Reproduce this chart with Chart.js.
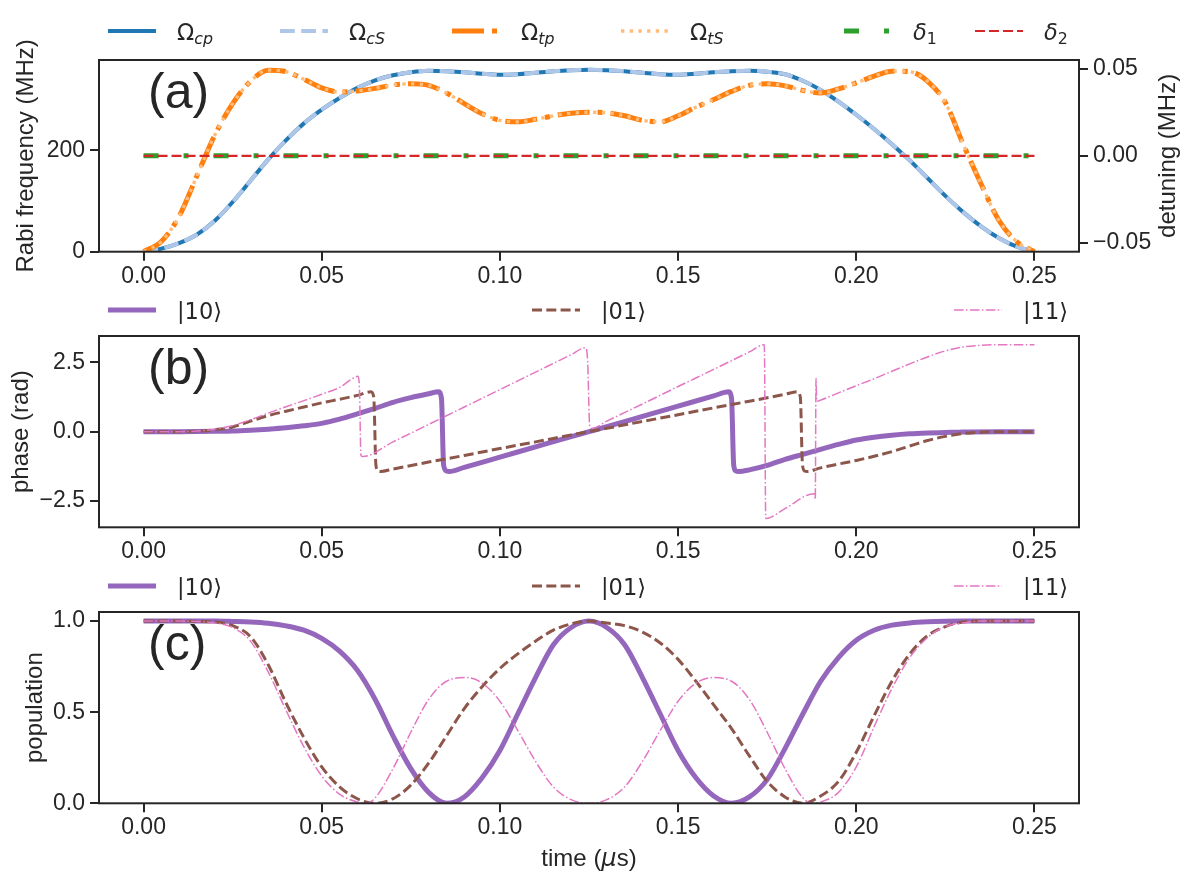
<!DOCTYPE html>
<html><head><meta charset="utf-8">
<script src="https://cdn.jsdelivr.net/npm/chart.js@4.4.1/dist/chart.umd.min.js"></script>
<style>
html,body{margin:0;padding:0;background:#fff}
#wrap{position:relative;width:1191px;height:883px;overflow:hidden;background:#fff}
canvas{position:absolute;left:0}
</style></head><body>
<div id="wrap">
<canvas id="cA" width="1191" height="295" style="top:0px"></canvas>
<canvas id="cB" width="1191" height="290" style="top:290px"></canvas>
<canvas id="cC" width="1191" height="308" style="top:575px"></canvas>
</div>
<script>
// ---------------- data ----------------
const timeGrid = [0,0.005,0.01,0.015,0.02,0.025,0.03,0.035,0.04,0.045,0.05,0.055,0.06,0.065,0.07,0.075,0.08,0.085,0.09,0.095,0.1,0.105,0.11,0.115,0.12,0.125,0.13,0.135,0.14,0.145,0.15,0.155,0.16,0.165,0.17,0.175,0.18,0.185,0.19,0.195,0.2,0.205,0.21,0.215,0.22,0.225,0.23,0.235,0.24,0.245,0.25];

// panel (a): Rabi frequencies (MHz)
const omegaCP = [0,6,17,34,61,98,140,182,220,253,280,303,323,338,348,354,357,356,354,351,349,350,353,356,358,359,358,356,353,350,349,351,354,356,357,355,350,337,319,296,270,242,212,180,145,110,78,50,27,10,0];
const omegaCS = [0,6,17,34,61,98,140,182,220,253,280,303,323,338,348,354,357,356,354,351,349,350,353,356,358,359,358,356,353,350,349,351,354,356,357,355,350,337,319,296,270,242,212,180,145,110,78,50,27,10,0];
const omegaTP = [0,20,70,150,230,292,336,358,355,340,323,315,317,322,329,331,328,313,292,272,259,256,261,268,273,275,274,268,259,256,268,285,300,316,328,331,327,318,313,321,333,346,356,355,336,294,212,134,62,20,0];
const omegaTS = [0,20,70,150,230,292,336,358,355,340,323,315,317,322,329,331,328,313,292,272,259,256,261,268,273,275,274,268,259,256,268,285,300,316,328,331,327,318,313,321,333,346,356,355,336,294,212,134,62,20,0];
// detunings (MHz)
const detuneT = [0, 0.25];
const delta1 = [0, 0];
const delta2 = [0, 0];

// panel (b): phases (rad)
const phase10T = [0,0.01,0.02,0.025,0.03,0.035,0.04,0.045,0.05,0.055,0.06,0.065,0.07,0.075,0.08,0.0828,0.0836,0.0842,0.085,0.0858,0.09,0.1,0.11,0.12,0.125,0.13,0.14,0.15,0.16,0.1642,0.165,0.1656,0.1662,0.167,0.17,0.175,0.18,0.185,0.19,0.195,0.2,0.205,0.21,0.215,0.22,0.225,0.23,0.24,0.25];
const phase10 = [0,0,0.01,0.02,0.05,0.09,0.14,0.21,0.3,0.45,0.64,0.84,1.06,1.23,1.37,1.44,1.2,-1.2,-1.42,-1.44,-1.29,-0.92,-0.55,-0.18,0,0.18,0.55,0.92,1.29,1.44,1.2,-1.2,-1.42,-1.44,-1.38,-1.22,-1.0,-0.82,-0.64,-0.46,-0.3,-0.2,-0.13,-0.08,-0.05,-0.03,-0.01,0,0];
const phase01T = [0,0.01,0.015,0.02,0.025,0.03,0.035,0.04,0.045,0.05,0.055,0.06,0.0638,0.0646,0.0652,0.0658,0.0665,0.07,0.08,0.09,0.1,0.11,0.12,0.125,0.13,0.14,0.15,0.16,0.17,0.18,0.1835,0.1843,0.1849,0.1855,0.1862,0.19,0.195,0.2,0.205,0.21,0.215,0.22,0.225,0.23,0.235,0.24,0.25];
const phase01 = [0,0,0.02,0.07,0.17,0.38,0.58,0.74,0.89,1.04,1.17,1.31,1.44,1.25,-1.2,-1.42,-1.44,-1.35,-1.1,-0.86,-0.61,-0.37,-0.12,0,0.12,0.37,0.61,0.86,1.1,1.35,1.44,1.25,-1.2,-1.42,-1.44,-1.31,-1.17,-1.04,-0.89,-0.72,-0.52,-0.32,-0.17,-0.07,-0.02,0,0];
const phase11T = [0,0.01,0.015,0.02,0.025,0.03,0.035,0.04,0.045,0.05,0.055,0.0595,0.0602,0.0606,0.061,0.0615,0.07,0.08,0.09,0.1,0.11,0.12,0.124,0.1246,0.1252,0.1258,0.13,0.14,0.15,0.16,0.17,0.1742,0.1746,0.18,0.1882,0.1885,0.1887,0.1889,0.19,0.195,0.2,0.205,0.21,0.215,0.22,0.225,0.23,0.235,0.24,0.25];
const phase11 = [0,0,0.02,0.09,0.22,0.43,0.67,0.9,1.12,1.35,1.6,1.98,2.0,1.5,-0.85,-0.9,-0.37,0.26,0.89,1.52,2.15,2.78,3.03,2.6,0.2,0.12,0.38,1.0,1.63,2.25,2.88,3.14,-3.14,-2.78,-2.24,-2.45,1.93,1.1,1.14,1.4,1.66,1.91,2.18,2.45,2.7,2.92,3.06,3.12,3.14,3.14];

// panel (c): populations
const pop10 = [1,1,1,1,1,0.998,0.995,0.988,0.974,0.95,0.905,0.835,0.73,0.57,0.37,0.19,0.06,0,0.035,0.14,0.29,0.49,0.69,0.87,0.965,1,0.965,0.87,0.69,0.49,0.29,0.14,0.04,0,0.035,0.13,0.3,0.49,0.67,0.8,0.895,0.95,0.978,0.99,0.996,0.999,1,1,1,1,1];
const pop01 = [1,1,1,0.998,0.995,0.975,0.915,0.76,0.55,0.36,0.2,0.09,0.025,0,0.025,0.1,0.22,0.37,0.52,0.64,0.74,0.82,0.89,0.95,0.985,1,0.99,0.975,0.94,0.88,0.79,0.67,0.54,0.41,0.26,0.12,0.035,0,0.04,0.12,0.28,0.48,0.67,0.82,0.92,0.97,0.995,1,1,1,1];
const pop11T = [0,0.01,0.015,0.02,0.025,0.03,0.035,0.04,0.045,0.05,0.055,0.06,0.0625,0.065,0.07,0.075,0.08,0.085,0.0905,0.095,0.1,0.105,0.11,0.115,0.12,0.125,0.13,0.135,0.14,0.145,0.15,0.155,0.1595,0.165,0.17,0.175,0.18,0.185,0.1875,0.19,0.195,0.2,0.205,0.21,0.215,0.22,0.225,0.23,0.235,0.25];
const pop11 = [1,1,0.998,0.99,0.965,0.89,0.72,0.51,0.31,0.15,0.05,0.007,0,0.03,0.19,0.39,0.57,0.67,0.69,0.66,0.56,0.4,0.23,0.09,0.02,0,0.02,0.09,0.23,0.4,0.56,0.66,0.69,0.67,0.57,0.39,0.19,0.03,0,0.007,0.06,0.2,0.42,0.63,0.8,0.91,0.97,0.99,1,1];

// ticks
const xTicks = [0,0.05,0.1,0.15,0.2,0.25];
const xTickLabels = ['0.00','0.05','0.10','0.15','0.20','0.25'];
const rabiTicks = [0,200];
const rabiTickLabels = ['0','200'];
const detuneTicks = [-0.05,0,0.05];
const detuneTickLabels = ['\u22120.05','0.00','0.05'];
const phaseTicks = [-2.5,0,2.5];
const phaseTickLabels = ['\u22122.5','0.0','2.5'];
const popTicks = [0,0.5,1];
const popTickLabels = ['0.0','0.5','1.0'];

// ---------------- styling ----------------
const INK = '#262626';
const SANS = '"Liberation Sans", Arial, sans-serif';
const MATH = '"DejaVu Sans", sans-serif';
const TICKF = {family: SANS, size: 23};
const TITLEF = '24px ' + SANS;
Chart.defaults.font.family = SANS;
const HANDLE = 48;

const ST = {
  cp:  {color:'#1f77b4', w:4,   dash:[]},
  cS:  {color:'#aec7e8', w:4,   dash:[14.8,6.4]},
  tp:  {color:'#ff7f0e', w:5,   dash:[32,8,5,8]},
  tS:  {color:'#ffbb78', w:3.3, dash:[3.3,5.4]},
  d1:  {color:'#2ca02c', w:5,   dash:[15,25,5,25]},
  d2:  {color:'#d62728', w:2.2, dash:[10,4]},
  s10: {color:'#9467bd', w:5,   dash:[]},
  s01: {color:'#8c564b', w:3,   dash:[10,4.3]},
  s11: {color:'#e377c2', w:1.5, dash:[9.6,2.4,1.5,2.4]}
};

function ds(label, ts, vs, st, order, axis) {
  return {
    label, data: ts.map((t, i) => ({x: t, y: vs[i]})),
    borderColor: st.color, backgroundColor: st.color, borderWidth: st.w, borderDash: st.dash,
    pointRadius: 0, pointHoverRadius: 0, fill: false, cubicInterpolationMode: 'monotone',
    borderJoinStyle: 'round', borderCapStyle: 'butt', clip: 0, yAxisID: axis || 'y', order
  };
}

function xScale(h) {
  return {
    type: 'linear', min: -0.0125, max: 0.2625,
    afterBuildTicks: s => { s.ticks = xTicks.map(v => ({value: v})); },
    ticks: {autoSkip: false, maxRotation: 0, minRotation: 0, padding: 2, color: INK, font: TICKF,
            callback: (v, i) => xTickLabels[i]},
    grid: {display: true, drawOnChartArea: false, drawTicks: true, tickLength: 9, lineWidth: 2, color: INK},
    border: {display: false},
    afterFit: s => { s.height = h; }
  };
}
function yScale(pos, min, max, ticks, labels, w) {
  return {
    type: 'linear', position: pos, min, max,
    afterBuildTicks: s => { s.ticks = ticks.map(v => ({value: v})); },
    ticks: {autoSkip: false, padding: 5, color: INK, font: TICKF, callback: (v, i) => labels[i]},
    grid: {display: true, drawOnChartArea: false, drawTicks: true, tickLength: 9, lineWidth: 2, color: INK},
    border: {display: false},
    afterFit: s => { s.width = w; }
  };
}

// rich text helpers
function measureRich(ctx, parts) {
  let w = 0;
  for (const p of parts) { ctx.font = p.f; w += ctx.measureText(p.t).width; }
  return w;
}
function drawRich(ctx, x, y, parts) {
  let cx = x;
  for (const p of parts) {
    ctx.font = p.f;
    ctx.fillText(p.t, cx, y + (p.dy || 0));
    cx += ctx.measureText(p.t).width;
  }
}
const P = (t, f, dy) => ({t, f, dy});
const OM = P('\u03A9', '22.5px ' + MATH);
const SUB = t => P(t, 'italic 15.8px ' + MATH, 4);
const KET = t => [P(t, '22.5px ' + MATH)];

function decor(cfg) {
  return {
    id: 'decor',
    afterDraw(chart) {
      const ctx = chart.ctx, a = chart.chartArea, off = cfg.offset;
      ctx.save();
      ctx.setLineDash([]);
      ctx.strokeStyle = INK; ctx.lineWidth = 2;
      ctx.strokeRect(a.left, a.top, a.right - a.left, a.bottom - a.top);
      ctx.fillStyle = INK; ctx.textAlign = 'left'; ctx.textBaseline = 'alphabetic';
      ctx.font = '50px ' + SANS;
      ctx.fillText(cfg.panel, a.left + 49, a.top + 48);
      const cy = (a.top + a.bottom) / 2;
      for (const t of cfg.yTitles) {
        ctx.save();
        ctx.translate(t.x, cy); ctx.rotate(-Math.PI / 2);
        const w = measureRich(ctx, t.parts);
        drawRich(ctx, -w / 2, 0, t.parts);
        ctx.restore();
      }
      if (cfg.xTitle) {
        const w = measureRich(ctx, cfg.xTitle.parts);
        drawRich(ctx, (a.left + a.right) / 2 - w / 2, cfg.xTitle.y - off, cfg.xTitle.parts);
      }
      const ly = cfg.legendY - off;
      for (const it of cfg.legend) {
        ctx.beginPath();
        ctx.strokeStyle = it.st.color; ctx.lineWidth = it.st.w; ctx.setLineDash(it.st.dash);
        ctx.lineCap = 'butt';
        ctx.moveTo(it.x, ly); ctx.lineTo(it.x + HANDLE, ly); ctx.stroke();
        ctx.setLineDash([]);
        ctx.fillStyle = INK;
        drawRich(ctx, it.x + 69, ly + 8.5, it.parts);
      }
      ctx.restore();
    }
  };
}

const baseOpts = (pad) => ({
  responsive: false, animation: false, events: [],
  layout: {padding: pad},
  plugins: {legend: {display: false}, tooltip: {enabled: false}}
});

// ---------------- panel (a) ----------------
new Chart(document.getElementById('cA'), {
  type: 'line',
  data: {datasets: [
    ds('\u03A9cp', timeGrid, omegaCP, ST.cp, 6),
    ds('\u03A9cS', timeGrid, omegaCS, ST.cS, 5),
    ds('\u03A9tp', timeGrid, omegaTP, ST.tp, 4),
    ds('\u03A9tS', timeGrid, omegaTS, ST.tS, 3),
    ds('\u03B41', detuneT, delta1, ST.d1, 2, 'y2'),
    ds('\u03B42', detuneT, delta2, ST.d2, 1, 'y2')
  ]},
  options: Object.assign(baseOpts({top: 60, left: 0, right: 0, bottom: 0}), {
    scales: {
      x: xScale(43.3),
      y: yScale('left', 0, 378, rabiTicks, rabiTickLabels, 99),
      y2: yScale('right', -0.055, 0.055, detuneTicks, detuneTickLabels, 112)
    }
  }),
  plugins: [decor({
    offset: 0, panel: '(a)', legendY: 31,
    yTitles: [
      {x: 33, parts: [P('Rabi frequency (MHz)', TITLEF)]},
      {x: 1175, parts: [P('detuning (MHz)', TITLEF)]}
    ],
    legend: [
      {x: 108, st: ST.cp, parts: [OM, SUB('cp')]},
      {x: 280, st: ST.cS, parts: [OM, SUB('cS')]},
      {x: 452, st: ST.tp, parts: [OM, SUB('tp')]},
      {x: 621, st: ST.tS, parts: [OM, SUB('tS')]},
      {x: 844, st: ST.d1, parts: [P('\u03B4', 'italic 22.5px ' + MATH), P('1', '15.8px ' + MATH, 4)]},
      {x: 975, st: ST.d2, parts: [P('\u03B4', 'italic 22.5px ' + MATH), P('2', '15.8px ' + MATH, 4)]}
    ]
  })]
});

const ketLegend = [
  {x: 108, st: ST.s10, parts: KET('|10\u27E9')},
  {x: 532, st: ST.s01, parts: KET('|01\u27E9')},
  {x: 954, st: ST.s11, parts: KET('|11\u27E9')}
];

// ---------------- panel (b) ----------------
new Chart(document.getElementById('cB'), {
  type: 'line',
  data: {datasets: [
    ds('|10>', phase10T, phase10, ST.s10, 3),
    ds('|01>', phase01T, phase01, ST.s01, 2),
    ds('|11>', phase11T, phase11, ST.s11, 1)
  ]},
  options: Object.assign(baseOpts({top: 46, left: 0, right: 112, bottom: 0}), {
    scales: {
      x: xScale(52.7),
      y: yScale('left', -3.456, 3.456, phaseTicks, phaseTickLabels, 99)
    }
  }),
  plugins: [decor({
    offset: 290, panel: '(b)', legendY: 310,
    yTitles: [{x: 28, parts: [P('phase (rad)', TITLEF)]}],
    legend: ketLegend
  })]
});

// ---------------- panel (c) ----------------
new Chart(document.getElementById('cC'), {
  type: 'line',
  data: {datasets: [
    ds('|10>', timeGrid, pop10, ST.s10, 3),
    ds('|01>', timeGrid, pop01, ST.s01, 2),
    ds('|11>', pop11T, pop11, ST.s11, 1)
  ]},
  options: Object.assign(baseOpts({top: 37, left: 0, right: 112, bottom: 0}), {
    scales: {
      x: xScale(79.7),
      y: yScale('left', 0, 1.05, popTicks, popTickLabels, 99)
    }
  }),
  plugins: [decor({
    offset: 575, panel: '(c)', legendY: 586,
    yTitles: [{x: 42, parts: [P('population', TITLEF)]}],
    xTitle: {y: 866, parts: [P('time (', TITLEF), P('\u03BC', 'italic 24px ' + MATH), P('s)', TITLEF)]},
    legend: ketLegend
  })]
});
</script>
</body></html>
